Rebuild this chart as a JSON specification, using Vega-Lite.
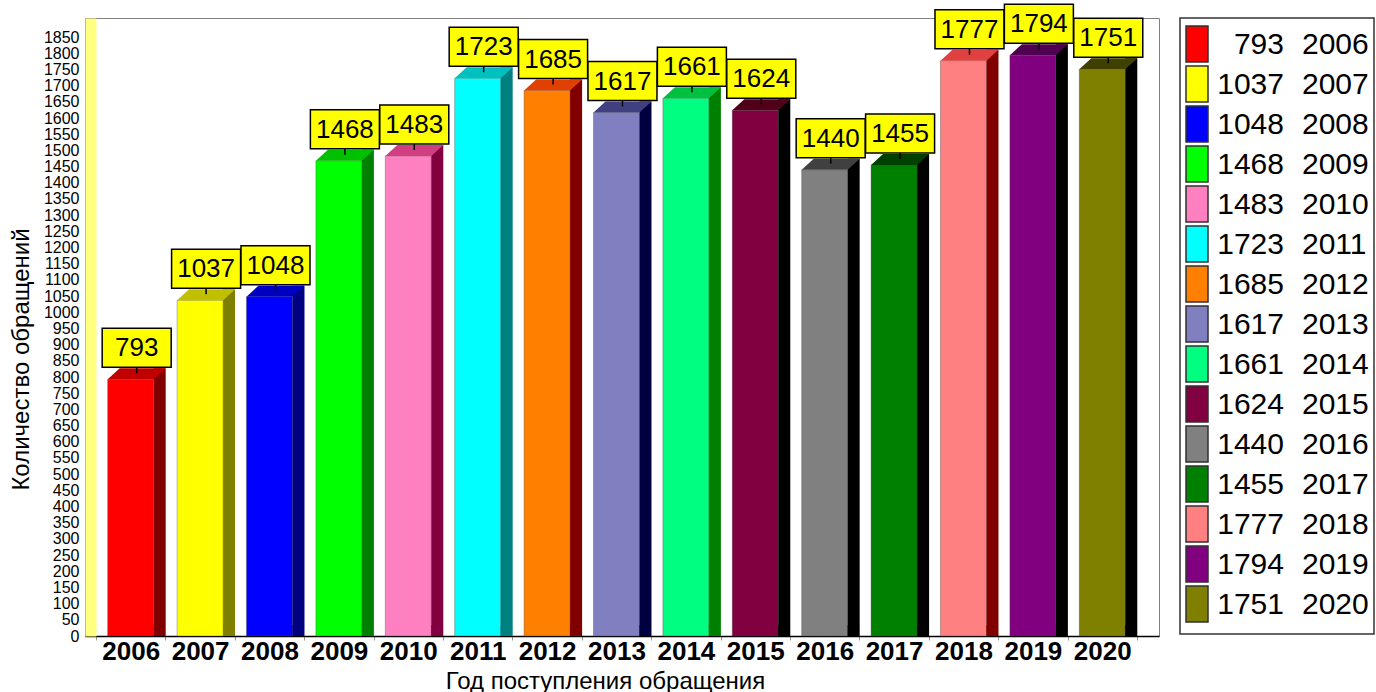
{
  "$schema": "https://vega.github.io/schema/vega-lite/v6.json",
  "background": "white",
  "padding": {"left": 8, "top": 0, "right": 0, "bottom": 0},
  "config": {"font": "Liberation Sans", "view": {"stroke": null}},
  "datasets": {
    "d": [
      {"year": "2006", "count": 793},
      {"year": "2007", "count": 1037},
      {"year": "2008", "count": 1048},
      {"year": "2009", "count": 1468},
      {"year": "2010", "count": 1483},
      {"year": "2011", "count": 1723},
      {"year": "2012", "count": 1685},
      {"year": "2013", "count": 1617},
      {"year": "2014", "count": 1661},
      {"year": "2015", "count": 1624},
      {"year": "2016", "count": 1440},
      {"year": "2017", "count": 1455},
      {"year": "2018", "count": 1777},
      {"year": "2019", "count": 1794},
      {"year": "2020", "count": 1751}
    ]
  },
  "spacing": 21,
  "bounds": "flush",
  "hconcat": [
    {
      "width": 1074,
      "height": 618,
      "data": {"name": "d"},
      "view": {"stroke": "#808080", "strokeWidth": 1},
      "encoding": {
        "x": {
          "field": "year",
          "type": "nominal",
          "scale": {"type": "band", "paddingInner": 0, "paddingOuter": 0.2378, "align": 0.333},
          "axis": {
            "title": "Год поступления обращения",
            "titleFontSize": 24,
            "titleFontWeight": "normal",
            "titleColor": "black",
            "titleX": 520,
            "titlePadding": 5,
            "labelFontSize": 26,
            "labelFontWeight": "bold",
            "labelColor": "black",
            "labelAngle": 0,
            "labelPadding": -2,
            "domainColor": "black",
            "domainWidth": 1.5,
            "tickColor": "#999999",
            "tickSize": 4,
            "tickBand": "extent",
            "grid": false
          }
        },
        "y": {
          "field": "count",
          "type": "quantitative",
          "stack": null,
          "scale": {"domain": [0, 1909], "nice": false, "zero": true},
          "axis": {
            "values": [0, 50, 100, 150, 200, 250, 300, 350, 400, 450, 500, 550, 600, 650, 700, 750, 800, 850, 900, 950, 1000, 1050, 1100, 1150, 1200, 1250, 1300, 1350, 1400, 1450, 1500, 1550, 1600, 1650, 1700, 1750, 1800, 1850],
            "format": "d",
            "title": "Количество обращений",
            "titleFontSize": 24,
            "titleFontWeight": "normal",
            "titleColor": "black",
            "titleY": 341,
            "titlePadding": 10,
            "labelFontSize": 16,
            "labelColor": "black",
            "labelOverlap": false,
            "labelFlush": false,
            "labelBound": false,
            "domainColor": "#ffff80",
            "domainWidth": 11,
            "offset": -5.5,
            "ticks": false,
            "tickSize": 0,
            "labelPadding": 11.5,
            "grid": false
          }
        }
      },
      "layer": [
        {
          "mark": {"type": "bar", "width": 46, "stroke": "#404040", "strokeWidth": 0.6, "strokeOpacity": 0.6},
          "encoding": {
            "fill": {"field": "year", "type": "nominal", "legend": null,
              "scale": {"range": ["#ff0000", "#ffff00", "#0000ff", "#00ff00", "#ff80c0", "#00ffff", "#ff8000", "#8080c0", "#00ff80", "#800040", "#808080", "#008000", "#ff8080", "#800080", "#808000"]}}
          }
        },
        {
          "mark": {"type": "bar", "width": 12, "xOffset": 29, "yOffset": -11, "y2Offset": -11},
          "encoding": {
            "fill": {"field": "year", "type": "nominal", "legend": null,
              "scale": {"range": ["#800000", "#808000", "#000080", "#008000", "#800040", "#008080", "#800000", "#000040", "#008000", "#000000", "#000000", "#000000", "#800000", "#000000", "#000000"]}}
          }
        },
        {
          "mark": {"type": "point", "shape": "M 23 0 L 35 -11 L 23 -11 Z", "size": 4, "filled": true, "opacity": 1, "strokeWidth": 0},
          "encoding": {
            "y": {"datum": 0, "type": "quantitative"},
            "fill": {"field": "year", "type": "nominal", "legend": null,
              "scale": {"range": ["#800000", "#808000", "#000080", "#008000", "#800040", "#008080", "#800000", "#000040", "#008000", "#000000", "#000000", "#000000", "#800000", "#000000", "#000000"]}}
          }
        },
        {
          "mark": {"type": "point", "shape": "M -23 0 L -11 -11 L 35 -11 L 23 0 Z", "size": 4, "filled": true, "opacity": 1, "strokeWidth": 0},
          "encoding": {
            "fill": {"field": "year", "type": "nominal", "legend": null,
              "scale": {"range": ["#c00000", "#c0c000", "#0000c0", "#00c000", "#d04080", "#00c0c0", "#e04000", "#404080", "#00c040", "#500018", "#404040", "#004000", "#e04040", "#500050", "#404000"]}}
          }
        },
        {
          "mark": {"type": "point", "shape": "M -28.5 -51 H 40.5 V -12 H -28.5 Z M 6 -12 V -6", "size": 4, "filled": true, "opacity": 1, "fill": "#ffff00", "stroke": "#000000", "strokeWidth": 1.5}
        },
        {
          "mark": {"type": "text", "fontSize": 26, "align": "center", "baseline": "middle", "xOffset": 6, "yOffset": -31, "color": "black"},
          "encoding": {"text": {"field": "count", "type": "quantitative", "format": "d"}}
        }
      ],
      "resolve": {"scale": {"fill": "independent"}}
    },
    {
      "width": 194,
      "height": 616,
      "data": {"name": "d"},
      "view": {"stroke": "#333333", "strokeWidth": 1.5},
      "encoding": {
        "y": {"field": "year", "type": "nominal", "scale": {"type": "band", "paddingInner": 0, "paddingOuter": 0.2, "align": 0.375}, "axis": null}
      },
      "layer": [
        {
          "mark": {"type": "point", "shape": "M -11 -18 H 11 V 18 H -11 Z", "size": 4, "filled": true, "opacity": 1, "stroke": "#303030", "strokeWidth": 1.5},
          "encoding": {
            "x": {"value": 17},
            "fill": {"field": "year", "type": "nominal", "legend": null,
              "scale": {"range": ["#ff0000", "#ffff00", "#0000ff", "#00ff00", "#ff80c0", "#00ffff", "#ff8000", "#8080c0", "#00ff80", "#800040", "#808080", "#008000", "#ff8080", "#800080", "#808000"]}}
          }
        },
        {
          "mark": {"type": "text", "align": "right", "baseline": "middle", "fontSize": 30, "dy": 1, "color": "black"},
          "encoding": {"x": {"value": 104}, "text": {"field": "count", "type": "quantitative", "format": "d"}}
        },
        {
          "mark": {"type": "text", "align": "left", "baseline": "middle", "fontSize": 30, "dy": 1, "color": "black"},
          "encoding": {"x": {"value": 122}, "text": {"field": "year", "type": "nominal"}}
        }
      ]
    }
  ]
}
